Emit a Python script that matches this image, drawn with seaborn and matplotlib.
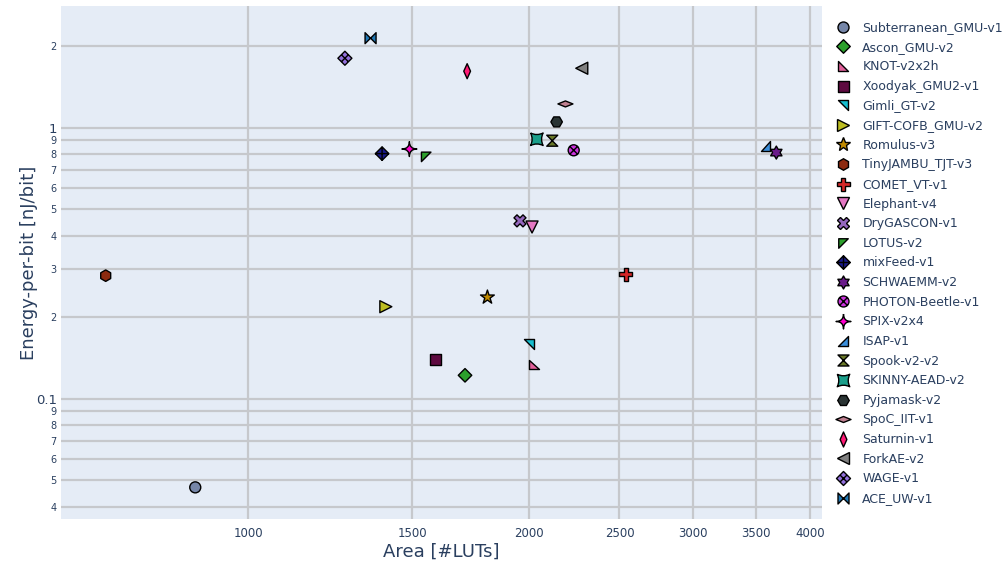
import numpy as np
import pandas as pd
import matplotlib
matplotlib.use("Agg")
import matplotlib.pyplot as plt
from matplotlib.path import Path
from matplotlib.lines import Line2D
import seaborn as sns

# ---- data -----------------------------------------------------------------
designs = [
    "Subterranean_GMU-v1", "Ascon_GMU-v2", "KNOT-v2x2h", "Xoodyak_GMU2-v1",
    "Gimli_GT-v2", "GIFT-COFB_GMU-v2", "Romulus-v3", "TinyJAMBU_TJT-v3",
    "COMET_VT-v1", "Elephant-v4", "DryGASCON-v1", "LOTUS-v2", "mixFeed-v1",
    "SCHWAEMM-v2", "PHOTON-Beetle-v1", "SPIX-v2x4", "ISAP-v1", "Spook-v2-v2",
    "SKINNY-AEAD-v2", "Pyjamask-v2", "SpoC_IIT-v1", "Saturnin-v1",
    "ForkAE-v2", "WAGE-v1", "ACE_UW-v1",
]
area_luts = [
    878, 1708, 2025, 1590, 2000, 1405, 1805, 704, 2539, 2015, 1956, 1552,
    1392, 3681, 2233, 1489, 3586, 2118, 2039, 2141, 2188, 1717, 2278, 1270,
    1353,
]
energy_nj_per_bit = [
    0.0471, 0.122, 0.134, 0.140, 0.159, 0.2185, 0.2367, 0.2844, 0.2877,
    0.430, 0.453, 0.780, 0.802, 0.809, 0.825, 0.834, 0.856, 0.895, 0.906,
    1.05, 1.223, 1.615, 1.656, 1.803, 2.138,
]
colors = [
    "#7686A8", "#2CA02C", "#E0609A", "#5E0A40", "#17BECF", "#BCBD22",
    "#C08A00", "#8C2A10", "#D62728", "#E377C2", "#9467BD", "#2CA02C",
    "#1A1A8C", "#6A1B8A", "#CC33DD", "#FF00CC", "#3A8EDB", "#6B7A2A",
    "#1A9E8A", "#2A3434", "#C08090", "#FF1A75", "#808080", "#9370DB",
    "#1F77B4",
]

x_ticks = [1000, 1500, 2000, 2500, 3000, 3500, 4000]
y_ticks = [0.04, 0.05, 0.06, 0.07, 0.08, 0.09, 0.1,
           0.2, 0.3, 0.4, 0.5, 0.6, 0.7, 0.8, 0.9, 1, 2]
y_tick_labels = ["4", "5", "6", "7", "8", "9", "0.1",
                 "2", "3", "4", "5", "6", "7", "8", "9", "1", "2"]

# ---- marker shapes ----------------------------------------------------------
M, L, C, C3 = Path.MOVETO, Path.LINETO, Path.CLOSEPOLY, Path.CURVE3


def poly(pts):
    pts = list(pts)
    return Path(pts + [pts[0]], [M] + [L] * (len(pts) - 1) + [C])


def segs(*pairs):
    verts, codes = [], []
    for a, b in pairs:
        verts += [a, b]
        codes += [M, L]
    return Path(verts, codes)


def concave(corners, ctrl):
    verts, codes = [corners[0]], [M]
    n = len(corners)
    for i in range(n):
        verts += [ctrl[i], corners[(i + 1) % n]]
        codes += [C3, C3]
    return Path(verts, codes)


diamond = poly([(0, 1), (1, 0), (0, -1), (-1, 0)])
square = poly([(-1, 1), (1, 1), (1, -1), (-1, -1)])
ang = np.deg2rad(90 + 30 * np.arange(12))
rad = np.where(np.arange(12) % 2 == 0, 1.0, 1 / np.sqrt(3))
hexagram = poly(list(zip(rad * np.cos(ang), rad * np.sin(ang))))

# (marker, width of the marker in pixels)
shapes = {
    "Subterranean_GMU-v1": ("o", 11),
    "Ascon_GMU-v2": (diamond, 13.5),
    "KNOT-v2x2h": (poly([(-1, 1), (-1, -1), (1, -1)]), 9.5),
    "Xoodyak_GMU2-v1": (square, 11),
    "Gimli_GT-v2": (poly([(-1, 1), (1, 1), (1, -1)]), 9.5),
    "GIFT-COFB_GMU-v2": (">", 12),
    "Romulus-v3": ("*", 14.5),
    "TinyJAMBU_TJT-v3": ("h", 11.5),
    "COMET_VT-v1": ("P", 13),
    "Elephant-v4": ("v", 12),
    "DryGASCON-v1": ("X", 12),
    "LOTUS-v2": (poly([(-1, 1), (1, 1), (-1, -1)]), 9.5),
    "mixFeed-v1": (Path.make_compound_path(
        diamond, segs(((0, 1), (0, -1)), ((-1, 0), (1, 0)))), 13.5),
    "SCHWAEMM-v2": (hexagram, 13),
    "PHOTON-Beetle-v1": (Path.make_compound_path(
        Path.unit_circle(),
        segs(((-0.7, -0.7), (0.7, 0.7)), ((-0.7, 0.7), (0.7, -0.7)))), 11),
    "SPIX-v2x4": (concave([(0, 1), (1, 0), (0, -1), (-1, 0)],
                          [(0, 0), (0, 0), (0, 0), (0, 0)]), 15),
    "ISAP-v1": (poly([(1, 1), (1, -1), (-1, -1)]), 9.5),
    "Spook-v2-v2": (poly([(-1, 1), (1, 1), (-1, -1), (1, -1)]), 11),
    "SKINNY-AEAD-v2": (concave([(-1, 1), (1, 1), (1, -1), (-1, -1)],
                               [(0, 0.5), (0.5, 0), (0, -0.5), (-0.5, 0)]), 12.5),
    "Pyjamask-v2": ("H", 11.5),
    "SpoC_IIT-v1": (poly([(0, 0.4), (1, 0), (0, -0.4), (-1, 0)]), 15),
    "Saturnin-v1": (poly([(0, 1), (0.45, 0), (0, -1), (-0.45, 0)]), 15),
    "ForkAE-v2": ("<", 12),
    "WAGE-v1": (Path.make_compound_path(
        diamond, segs(((-0.5, 0.5), (0.5, -0.5)), ((0.5, 0.5), (-0.5, -0.5)))), 14),
    "ACE_UW-v1": (poly([(-1, 1), (1, -1), (1, 1), (-1, -1)]), 11),
}
markers = {d: shapes[d][0] for d in designs}
marker_pt = {d: shapes[d][1] * 0.72 for d in designs}
marker_area = {d: marker_pt[d] ** 2 for d in designs}

df = pd.DataFrame({"design": designs, "area": area_luts,
                   "energy": energy_nj_per_bit})
palette = dict(zip(designs, colors))

# ---- figure -----------------------------------------------------------------
sns.set_theme(style="darkgrid")
plt.rcParams["font.family"] = ["DejaVu Sans"]
text_color = "#2a3f5f"
grid_color = "#C6C8CC"

fig = plt.figure(figsize=(10.08, 5.65), dpi=100)
ax = fig.add_axes([61 / 1008, 1 - 519 / 565, (822 - 61) / 1008, (519 - 6) / 565])
ax.set_facecolor("#E5ECF6")

ax.set_xscale("log")
ax.set_yscale("log")

sns.scatterplot(
    data=df, x="area", y="energy", hue="design", style="design", size="design",
    hue_order=designs, style_order=designs, size_order=designs,
    palette=palette, markers=markers, sizes=marker_area,
    edgecolor="black", linewidth=1, legend=False, ax=ax, zorder=3,
)

ax.set_xlim(630.5, 4120)
ax.set_ylim(0.0360, 2.81)

ax.set_xticks(x_ticks)
ax.set_xticklabels([str(t) for t in x_ticks])
ax.xaxis.set_minor_locator(plt.NullLocator())
ax.set_yticks(y_ticks)
ax.set_yticklabels(y_tick_labels)
ax.yaxis.set_minor_locator(plt.NullLocator())

ax.grid(True, which="major", color=grid_color, linewidth=1.6)
ax.set_axisbelow(True)
for sp in ax.spines.values():
    sp.set_visible(False)

ax.tick_params(axis="x", length=0, pad=6, labelsize=8.5, labelcolor=text_color)
ax.tick_params(axis="y", length=0, pad=3, labelcolor=text_color)
for lab in ax.get_yticklabels():
    lab.set_fontsize(9.5 if lab.get_text() in ("1", "0.1") else 7)

ax.set_xlabel("Area [#LUTs]", fontsize=13, color=text_color, labelpad=2)
ax.set_ylabel("Energy-per-bit [nJ/bit]", fontsize=13, color=text_color)
ax.yaxis.set_label_coords(-0.030, 0.5)

handles = [
    Line2D([], [], linestyle="", marker=markers[d], markersize=marker_pt[d],
           markerfacecolor=palette[d], markeredgecolor="black",
           markeredgewidth=1)
    for d in designs
]
fig.legend(
    handles, designs, loc="upper left",
    bbox_to_anchor=(833 / 1008, 1 - 21 / 565), frameon=False,
    fontsize=9, labelcolor=text_color, handletextpad=0.75,
    handlelength=1.6, labelspacing=0.53, borderpad=0, borderaxespad=0,
)

fig.savefig("out.png", dpi=100, facecolor="white")
